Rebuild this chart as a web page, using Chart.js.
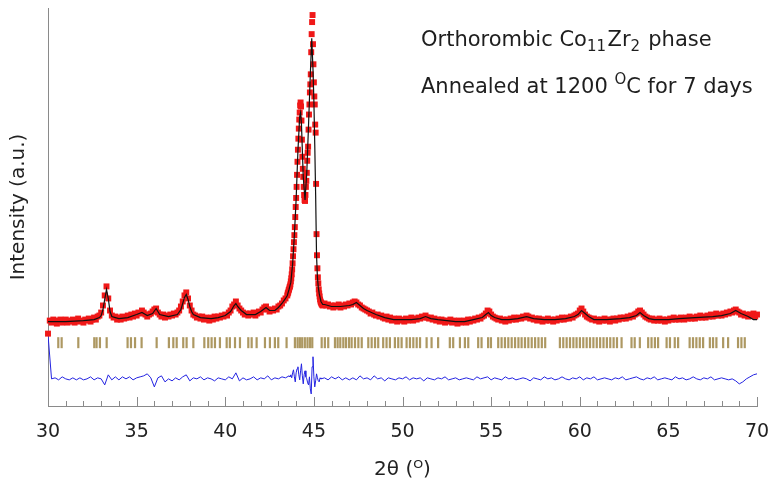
<!DOCTYPE html>
<html>
<head>
<meta charset="utf-8">
<script src="https://cdn.jsdelivr.net/npm/chart.js@4.4.1/dist/chart.umd.min.js"></script>
<style>
  html, body { margin: 0; padding: 0; background: #fff; }
</style>
</head>
<body>
<canvas id="xrd" width="772" height="482"></canvas>
<script>
// 2theta axis
const xMin = 30;
const xMax = 70;
const xTickValues = [30, 35, 40, 45, 50, 55, 60, 65, 70];

// observed intensity (a.u.), three scan segments
const obsLowStart = 30.0,  obsLowStep = 0.1;
const obsLow = [
  72, 85, 83, 86, 84, 82, 85, 86, 83, 84,
  86, 83, 85, 84, 86, 83, 85, 87, 84, 85,
  83, 86, 85, 87, 84, 86, 88, 86, 89, 90,
  93, 100, 110, 119, 107, 95, 90, 88, 89, 86,
  88, 86, 89, 87, 88, 90, 88, 91, 89, 92,
  90, 93, 92, 95, 93, 91, 89, 91, 92, 94,
  96, 97, 93, 91, 89, 91, 88, 90, 89, 91,
  90, 92, 91, 93, 95, 99, 104, 110, 113, 107,
  100, 95, 91, 90, 88, 89, 87, 89, 86, 88,
  87, 85, 88, 86, 89, 87, 89, 88, 90, 89,
  91, 90, 93, 95, 99, 101, 104, 100, 97, 95,
  93, 91, 92, 90, 92, 91, 93, 90, 92, 94,
  93, 96, 98, 99, 96, 94, 96, 95, 97, 96,
  99, 100, 102, 105, 107
];
const obsPeakStart = 43.5, obsPeakStep = 0.025;
const obsPeak = [
  110, 112, 113, 115, 116, 118, 119, 121,
  124, 127, 131, 136, 142, 149, 156, 163,
  170, 178, 188, 198, 207, 218, 230, 243,
  255, 266, 276, 285, 292, 299, 302, 298,
  284, 265, 248, 236, 228, 218, 210, 205,
  204, 210, 218, 224, 232, 244, 252, 258,
  275, 290, 300, 312, 320, 330, 352, 370,
  382, 389, 360, 340, 322, 308, 300, 280,
  272, 221, 171, 150, 137, 128, 122, 116,
  112, 109, 106, 104, 103, 102, 101, 101,
  100
];
const obsHighStart = 45.6, obsHighStep = 0.1;
const obsHigh = [
  102, 100, 101, 99,
  100, 98, 100, 99, 101, 98, 100, 99, 101, 100,
  102, 101, 103, 104, 103, 101, 100, 98, 97, 96,
  95, 94, 92, 93, 91, 90, 91, 89, 90, 88,
  87, 89, 86, 88, 85, 87, 86, 84, 87, 85,
  86, 84, 87, 85, 86, 88, 85, 87, 86, 88,
  87, 89, 88, 90, 88, 87, 88, 86, 87, 85,
  86, 84, 86, 85, 83, 85, 84, 86, 83, 85,
  84, 82, 85, 83, 84, 85, 83, 86, 84, 86,
  85, 87, 86, 88, 87, 89, 90, 92, 95, 94,
  91, 89, 88, 87, 86, 87, 85, 86, 84, 86,
  85, 87, 86, 88, 86, 87, 88, 87, 89, 88,
  90, 89, 87, 88, 86, 87, 85, 87, 86, 84,
  86, 85, 87, 85, 86, 84, 86, 85, 87, 86,
  88, 86, 87, 88, 87, 89, 88, 90, 91, 92,
  95, 97, 94, 91, 89, 88, 87, 86, 87, 85,
  86, 84, 86, 85, 87, 85, 86, 84, 86, 87,
  85, 87, 86, 88, 87, 88, 87, 89, 88, 90,
  89, 91, 92, 94, 95, 93, 91, 89, 88, 87,
  86, 87, 85, 86, 85, 87, 85, 86, 84, 86,
  85, 87, 86, 88, 86, 87, 86, 88, 87, 86,
  88, 87, 89, 87, 88, 87, 89, 88, 90, 88,
  89, 88, 90, 89, 91, 89, 90, 92, 90, 91,
  90, 92, 91, 93, 92, 94, 93, 95, 96, 94,
  93, 91, 92, 90, 91, 89, 91, 90, 92, 89,
  91
];

// calculated profile
const calcTheta = [
  30.0, 31.0, 32.0, 32.6, 32.9, 33.0, 33.1, 33.2, 33.3, 33.4, 33.5, 33.6, 33.8, 34.0, 34.5,
  35.0, 35.3, 35.6, 35.9, 36.1, 36.3, 36.8, 37.3, 37.5, 37.6, 37.7, 37.8, 37.9, 38.0, 38.1,
  38.2, 38.6, 39.2, 39.6, 40.0, 40.3, 40.5, 40.6, 40.7, 40.9, 41.2, 41.7, 42.0, 42.3, 42.5,
  42.8, 43.0, 43.2, 43.4, 43.5, 43.6, 43.7, 43.8, 43.9, 44.0, 44.1, 44.2, 44.25, 44.3, 44.4,
  44.5, 44.6, 44.7, 44.8, 44.88, 44.95, 45.0, 45.05, 45.1, 45.15, 45.2, 45.25, 45.3, 45.4, 45.5,
  45.6, 46.0, 46.5, 47.0, 47.2, 47.4, 47.6, 47.8, 48.0, 48.5, 49.0, 49.5, 50.0, 50.5, 51.0,
  51.3, 51.6, 52.0, 52.5, 53.0, 53.5, 54.0, 54.5, 54.7, 54.85, 55.0, 55.2, 55.6, 56.0, 56.5,
  57.0, 57.4, 58.0, 58.6, 59.2, 59.7, 59.9, 60.1, 60.3, 60.5, 60.8, 61.5, 62.3, 62.8, 63.2,
  63.4, 63.6, 63.9, 64.2, 65.0, 65.6, 66.5, 67.5, 68.0, 68.5, 68.8, 69.1, 69.5, 69.8, 70.0
];
const calcCounts = [
  84, 84, 85, 86, 88, 90, 96, 106, 116, 107, 94, 89, 88, 87, 88,
  91, 93, 90, 92, 97, 91, 89, 91, 96, 102, 108, 111, 106, 99, 94,
  91, 88, 87, 88, 90, 94, 100, 102, 99, 95, 91, 91, 94, 98, 95,
  95, 98, 102, 107, 110, 116, 123, 141, 170, 206, 254, 288, 292, 280, 228,
  205, 232, 280, 330, 366, 335, 304, 260, 210, 150, 128, 118, 112, 104, 101,
  101, 99, 99, 100, 101, 103, 100, 97, 95, 91, 88, 86, 86, 86, 87,
  89, 87, 86, 85, 84, 84, 86, 88, 91, 93, 90, 88, 86, 86, 87,
  89, 87, 86, 86, 87, 89, 91, 95, 92, 89, 86, 86, 87, 88, 90,
  93, 90, 87, 86, 86, 87, 88, 89, 90, 92, 95, 92, 89, 86, 86
];

// difference (obs - calc), plotted below the pattern
const diffOffset = 27;
const diffLowStart = 30.0, diffLowStep = 0.2;
const diffLow = [
  44, 0, 1, -1, 2, 0, -1, 1, -1, 1,
  -1, 0, 2, -1, 1, 0, -6, 4, -1, 2,
  -1, 2, 0, 2, -1, 1, 2, 3, 5, 1,
  -8, 1, 3, -3, 0, -2, 1, -1, 2, 4,
  -2, 1, 0, 2, -1, 1, 0, -2, 1, 0,
  -1, 2, 0, 6, -2, 1, -1, 0, 2, -1,
  1, 0, 3, -1, 1, 0, 2, 1, 3
];
const diffPeakStart = 43.65, diffPeakStep = 0.05;
const diffPeak = [
  2, 4, 1, 6, 9, 2, -3, 6, 10, 12,
  4, -1, 8, 15, 3, -5, 4, 8, 2, 0,
  -4, -6, 2, -10, -15, 12, 22, 2, -8, -2,
  5, 1, -2, -3, 1, 0
];
const diffHighStart = 45.6, diffHighStep = 0.2;
const diffHigh = [
  1, -1, 2, 0, 2, -1, 1, -1, 1, -1,
  3, 0, 1, -1, 3, 0, 1, -2, 1, 0,
  -1, 1, 0, 2, -1, 1, 0, 1, -2, 1,
  0, -1, 1, 0, 2, -1, 0, 1, -1, 0,
  1, 0, -1, 2, 0, 1, 2, -1, 1, 0,
  -1, 2, 0, 1, -1, 0, 1, 0, -2, 1,
  0, -1, 2, 0, 1, -1, 0, 2, 0, -1,
  1, 0, 2, -1, 1, 0, 2, -1, 0, 1,
  0, -1, 1, 0, 2, -1, 0, 1, 2, 0,
  -1, 1, 0, 2, -1, 0, 1, 0, -1, 2,
  0, 1, -1, 0, 2, 0, -1, 1, 0, 2,
  -1, 0, 1, 0, -1, 0, -2, -5, -3, 0,
  2, 4, 5
];

// Bragg reflection positions of the Co11Zr2 phase
const braggRow = 63;
const braggPeaks = [
  30.58, 30.77, 31.71, 32.61, 32.74, 32.93, 33.31, 34.49, 34.68, 34.91, 35.28, 36.13,
  36.82, 37.07, 37.26, 37.63, 37.82, 38.2, 38.82, 39.04, 39.23, 39.42, 39.7, 40.08,
  40.26, 40.55, 40.83, 41.3, 41.49, 41.77, 42.24, 42.52, 42.8, 42.99, 43.46, 43.93,
  44.08, 44.21, 44.34, 44.49, 44.64, 44.78, 44.91, 45.44, 45.62, 45.81, 46.19, 46.34,
  46.49, 46.66, 46.81, 46.98, 47.13, 47.32, 47.51, 47.7, 48.07, 48.26, 48.45, 48.63,
  48.91, 49.1, 49.29, 49.57, 49.76, 49.95, 50.23, 50.42, 50.61, 50.8, 50.99, 51.36,
  51.64, 52.01, 52.67, 52.86, 53.24, 53.52, 53.71, 54.27, 54.46, 54.83, 54.99, 55.4,
  55.59, 55.78, 55.97, 56.16, 56.35, 56.54, 56.72, 56.91, 57.1, 57.29, 57.48, 57.67,
  57.86, 58.05, 58.88, 59.07, 59.26, 59.45, 59.64, 59.82, 60.01, 60.2, 60.39, 60.58,
  60.77, 60.96, 61.15, 61.34, 61.53, 61.72, 61.91, 62.1, 62.36, 62.92, 63.1, 63.39,
  63.86, 64.05, 64.24, 64.42, 64.9, 65.09, 65.36, 65.55, 66.2, 66.39, 66.58, 66.77,
  66.96, 67.34, 67.52, 67.71, 68.09, 68.37, 68.93, 69.12, 69.31
];

const FONT = 'DejaVu Sans';

function scan(start, step, values, shift = 0) {
  return values.map((v, i) => ({ x: +(start + i * step).toFixed(3), y: v + shift }));
}

const obsPoints = [
  ...scan(obsLowStart, obsLowStep, obsLow),
  ...scan(obsPeakStart, obsPeakStep, obsPeak),
  ...scan(obsHighStart, obsHighStep, obsHigh)
];
const calcPoints = calcTheta.map((t, i) => ({ x: t, y: calcCounts[i] }));
const diffPoints = [
  ...scan(diffLowStart, diffLowStep, diffLow, diffOffset),
  ...scan(diffPeakStart, diffPeakStep, diffPeak, diffOffset),
  ...scan(diffHighStart, diffHighStep, diffHigh, diffOffset)
];
const braggPoints = braggPeaks.map(t => ({ x: t, y: braggRow }));

// small inward ticks on the 2theta axis
const innerTicks = {
  id: 'innerTicks',
  afterDraw(chart) {
    const { ctx, scales: { x } } = chart;
    ctx.save();
    ctx.strokeStyle = '#8a8a8a';
    ctx.lineWidth = 1;
    for (let t = xMin; t <= xMax; t++) {
      const px = Math.round(x.getPixelForValue(t)) + 0.5;
      const len = t % 5 === 0 ? 9 : 5;
      ctx.beginPath();
      ctx.moveTo(px, x.top);
      ctx.lineTo(px, x.top - len);
      ctx.stroke();
    }
    ctx.restore();
  }
};

// text with sub/superscripts
function drawRich(ctx, parts, x, y) {
  parts.forEach(p => {
    const small = p.sub || p.sup;
    ctx.font = (small ? '15px ' : '21px ') + '"' + FONT + '"';
    const dy = p.sub ? 5 : p.sup ? -9 : 0;
    ctx.fillText(p.t, x, y + dy);
    x += ctx.measureText(p.t).width + (p.sub ? 1.5 : 0);
  });
}

const notes = {
  id: 'notes',
  afterDraw(chart) {
    const ctx = chart.ctx;
    ctx.save();
    ctx.fillStyle = '#1e1e1e';
    ctx.textBaseline = 'alphabetic';
    drawRich(ctx, [
      { t: 'Orthorombic Co' }, { t: '11', sub: true }, { t: 'Zr' }, { t: '2', sub: true }, { t: ' phase' }
    ], 421, 46);
    drawRich(ctx, [
      { t: 'Annealed at 1200 ' }, { t: 'O', sup: true }, { t: 'C for 7 days' }
    ], 421, 93);
    ctx.restore();
  }
};

new Chart(document.getElementById('xrd'), {
  type: 'scatter',
  data: {
    datasets: [
      {
        label: 'Calculated',
        data: calcPoints,
        showLine: true,
        borderColor: '#111',
        borderWidth: 1.2,
        pointRadius: 0,
        order: 0
      },
      {
        label: 'Observed',
        data: obsPoints,
        pointStyle: 'rect',
        pointRadius: 4.2,
        backgroundColor: 'rgb(240,24,24)',
        borderWidth: 0,
        clip: false,
        order: 1
      },
      {
        label: 'Difference',
        data: diffPoints,
        showLine: true,
        borderColor: 'rgb(35,35,225)',
        borderWidth: 1,
        pointRadius: 0,
        order: 2
      },
      {
        label: 'Bragg positions',
        data: braggPoints,
        pointStyle: 'line',
        rotation: 90,
        pointRadius: 5.5,
        borderColor: 'rgba(145,118,45,0.75)',
        borderWidth: 2.2,
        order: 3
      }
    ]
  },
  options: {
    responsive: false,
    animation: false,
    events: [],
    layout: { padding: { left: 3, right: 3, top: 8, bottom: 0 } },
    plugins: {
      legend: { display: false },
      tooltip: { enabled: false }
    },
    scales: {
      x: {
        type: 'linear',
        min: xMin,
        max: xMax,
        afterBuildTicks: scale => { scale.ticks = xTickValues.map(v => ({ value: v })); },
        afterFit: scale => { scale.paddingRight = 15; },
        grid: { display: false, drawTicks: false },
        border: { color: '#8a8a8a', width: 1 },
        ticks: { font: { family: FONT, size: 19 }, color: '#222', padding: 14.6 },
        title: {
          display: true,
          text: '2θ (ᴼ)',
          font: { family: FONT, size: 20 },
          color: '#222',
          padding: { top: 0, bottom: 0 }
        }
      },
      y: {
        min: 0,
        max: 396,
        grid: { display: false, drawTicks: false },
        border: { color: '#8a8a8a', width: 1 },
        ticks: { display: false },
        title: {
          display: true,
          text: 'Intensity (a.u.)',
          font: { family: FONT, size: 20 },
          color: '#222',
          padding: { top: 4, bottom: 17 }
        }
      }
    }
  },
  plugins: [innerTicks, notes]
});
</script>
</body>
</html>
